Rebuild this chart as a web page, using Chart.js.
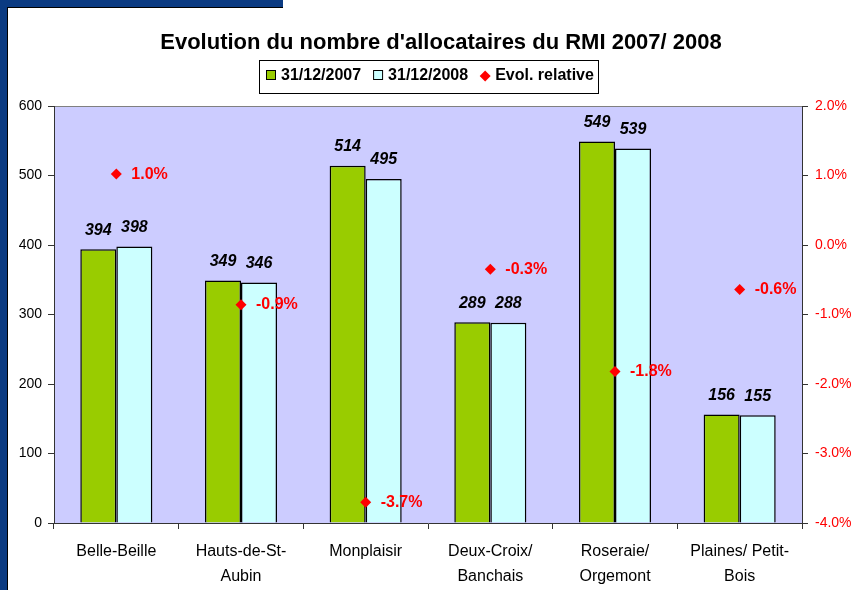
<!DOCTYPE html>
<html>
<head>
<meta charset="utf-8">
<script src="https://cdn.jsdelivr.net/npm/chart.js@4"></script>
<style>
  html, body { margin: 0; padding: 0; background: #fff; }
  #wrap { width: 868px; height: 590px; position: relative; }
</style>
</head>
<body>
<div id="wrap"><canvas id="rmi-chart" width="868" height="590"></canvas></div>
<script>
// data
const quartiers = ['Belle-Beille', ['Hauts-de-St-', 'Aubin'], 'Monplaisir', ['Deux-Croix/', 'Banchais'], ['Roseraie/', 'Orgemont'], ['Plaines/ Petit-', 'Bois']];
const alloc2007 = [394, 349, 514, 289, 549, 156];
const alloc2008 = [398, 346, 495, 288, 539, 155];
const evolRelative = [1.02, -0.86, -3.70, -0.35, -1.82, -0.64]; // en %
const leftTicks = { min: 0, max: 600, step: 100 };
const rightTicks = { min: -4, max: 2, step: 1 };

const FONT = "'Liberation Sans', Arial, sans-serif";
const GREEN = '#99CC00';
const CYAN = '#CCFFFF';
const RED = '#FF0000';
const PLOT_BG = '#CCCCFF';
const NAVY = '#0B3B82';

// frame, plot background, title, legend and value labels
const decor = {
    id: 'decor',
    beforeDraw(chart) {
        const c = chart.ctx;
        const a = chart.chartArea;
        c.save();
        c.fillStyle = '#fff';
        c.fillRect(0, 0, chart.width, chart.height);
        // navy frame top-left
        c.fillStyle = NAVY;
        c.fillRect(0, 0, 7, chart.height);
        c.fillRect(0, 0, 283, 7);
        c.fillStyle = '#000';
        c.fillRect(7, 7, 1, chart.height - 7);
        c.fillRect(7, 7, 276, 1);
        // plot area
        c.fillStyle = PLOT_BG;
        c.fillRect(a.left, a.top, a.right - a.left, a.bottom - a.top);
        c.strokeStyle = '#808080';
        c.lineWidth = 1;
        c.beginPath();
        c.moveTo(a.left, a.top + 0.5);
        c.lineTo(a.right, a.top + 0.5);
        c.stroke();
        c.restore();
    },
    afterDatasetsDraw(chart) {
        const c = chart.ctx;
        c.save();
        // bar values
        c.font = 'italic bold 16px ' + FONT;
        c.fillStyle = '#000';
        c.textAlign = 'center';
        c.textBaseline = 'middle';
        [0, 1].forEach(i => {
            const meta = chart.getDatasetMeta(i);
            meta.data.forEach((bar, j) => {
                c.fillText(chart.data.datasets[i].data[j], bar.x, bar.y - 19);
            });
        });
        // evolution labels
        c.font = 'bold 16px ' + FONT;
        c.fillStyle = RED;
        c.textAlign = 'left';
        const pm = chart.getDatasetMeta(2);
        pm.data.forEach((pt, j) => {
            c.fillText(evolRelative[j].toFixed(1) + '%', pt.x + 15, pt.y);
        });
        c.restore();
    },
    afterDraw(chart) {
        const c = chart.ctx;
        c.save();
        // title
        c.font = 'bold 22px ' + FONT;
        c.fillStyle = '#000';
        c.textAlign = 'center';
        c.textBaseline = 'middle';
        c.fillText("Evolution du nombre d'allocataires du RMI 2007/ 2008", 441, 43);
        // legend box
        c.strokeStyle = '#000';
        c.lineWidth = 1;
        c.strokeRect(259.5, 60.5, 339, 33);
        c.font = 'bold 16px ' + FONT;
        c.textAlign = 'left';
        let x = 266;
        const y = 76;
        chart.data.datasets.forEach(ds => {
            if (ds.type === 'line') {
                c.fillStyle = RED;
                c.beginPath();
                c.moveTo(x + 5, y - 5.5);
                c.lineTo(x + 10.5, y);
                c.lineTo(x + 5, y + 5.5);
                c.lineTo(x - 0.5, y);
                c.closePath();
                c.fill();
            } else {
                c.fillStyle = ds.backgroundColor;
                c.fillRect(x + 0.5, y - 5.5, 9, 9);
                c.strokeStyle = '#000';
                c.strokeRect(x + 0.5, y - 5.5, 9, 9);
            }
            c.fillStyle = '#000';
            c.fillText(ds.label, x + 15, y);
            x += 15 + c.measureText(ds.label).width + 12;
        });
        c.restore();
    }
};

const ctx = document.getElementById('rmi-chart').getContext('2d');

const rmiChart = new Chart(ctx, {
    type: 'bar',
    data: {
        labels: quartiers,
        datasets: [{
            label: '31/12/2007',
            data: alloc2007,
            backgroundColor: GREEN,
            borderColor: '#000',
            borderWidth: 1.5,
            yAxisID: 'y',
            order: 1,
            categoryPercentage: 0.578,
            barPercentage: 1
        }, {
            label: '31/12/2008',
            data: alloc2008,
            backgroundColor: CYAN,
            borderColor: '#000',
            borderWidth: 1.5,
            yAxisID: 'y',
            order: 1,
            categoryPercentage: 0.578,
            barPercentage: 1
        }, {
            type: 'line',
            label: 'Evol. relative',
            data: evolRelative,
            showLine: false,
            pointStyle: 'rectRot',
            pointRadius: 5.5,
            pointBackgroundColor: RED,
            pointBorderColor: RED,
            pointBorderWidth: 0,
            yAxisID: 'y1',
            order: 0
        }]
    },
    options: {
        responsive: false,
        animation: false,
        layout: { padding: { top: 106, left: 0, right: 0, bottom: 0 } },
        plugins: {
            legend: { display: false },
            title: { display: false },
            tooltip: { enabled: false }
        },
        scales: {
            x: {
                grid: { drawOnChartArea: false, drawTicks: true, tickLength: 6, color: '#333', offset: true },
                border: { display: true, color: '#333' },
                ticks: {
                    color: '#000',
                    font: { family: FONT, size: 16, lineHeight: 1.55 },
                    padding: 10,
                    maxRotation: 0,
                    autoSkip: false
                },
                afterFit: s => { s.height = 67; }
            },
            y: {
                position: 'left',
                min: leftTicks.min,
                max: leftTicks.max,
                grid: { drawOnChartArea: false, drawTicks: true, tickLength: 6, color: '#333' },
                border: { display: true, color: '#333' },
                ticks: {
                    stepSize: leftTicks.step,
                    color: '#000',
                    font: { family: FONT, size: 14 },
                    padding: 6
                },
                afterFit: s => { s.width = 54; }
            },
            y1: {
                position: 'right',
                min: rightTicks.min,
                max: rightTicks.max,
                grid: { drawOnChartArea: false, drawTicks: true, tickLength: 6, color: '#333' },
                border: { display: true, color: '#333' },
                ticks: {
                    stepSize: rightTicks.step,
                    color: RED,
                    font: { family: FONT, size: 14 },
                    padding: 7,
                    callback: v => v.toFixed(1) + '%'
                },
                afterFit: s => { s.width = 66; }
            }
        }
    },
    plugins: [decor]
});
</script>
</body>
</html>
